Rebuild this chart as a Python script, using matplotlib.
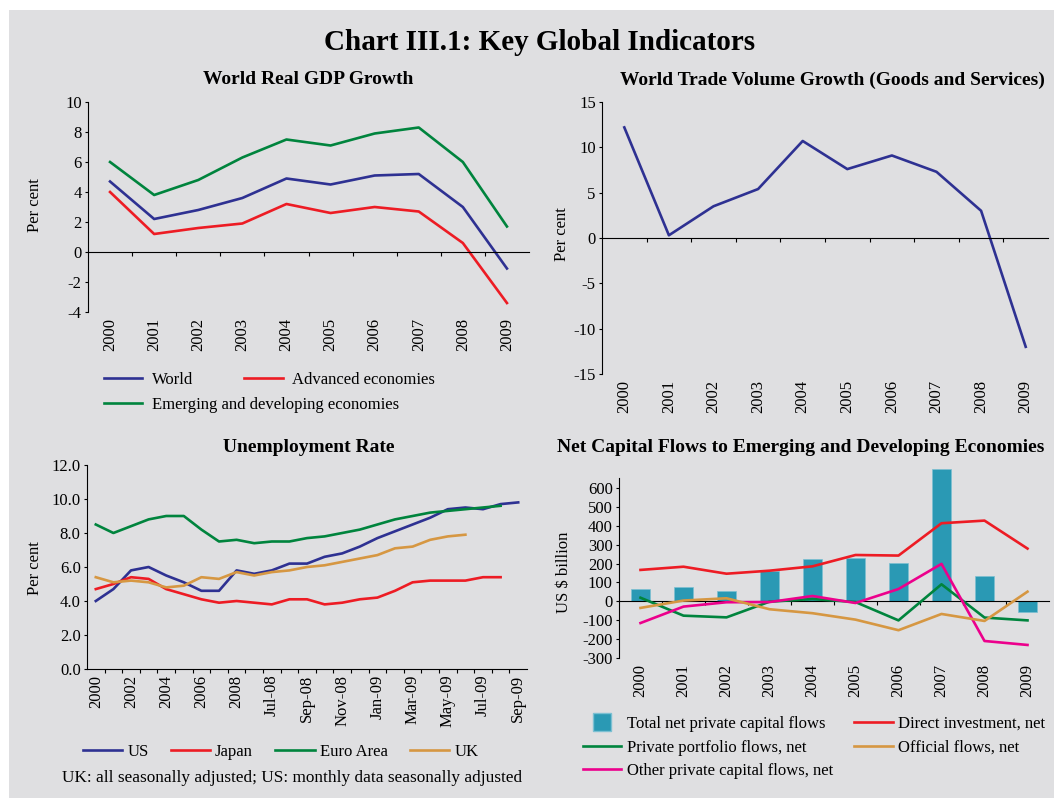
import matplotlib
matplotlib.use("Agg")
import matplotlib.pyplot as plt
from matplotlib.patches import Rectangle
from matplotlib.lines import Line2D

plt.rcParams['font.family'] = ['Liberation Serif', 'DejaVu Serif']
plt.rcParams['axes.unicode_minus'] = False

# ---------------- data ----------------
years = ['2000', '2001', '2002', '2003', '2004', '2005', '2006', '2007', '2008', '2009']

gdp_world = [4.7, 2.2, 2.8, 3.6, 4.9, 4.5, 5.1, 5.2, 3.0, -1.1]
gdp_advanced = [4.0, 1.2, 1.6, 1.9, 3.2, 2.6, 3.0, 2.7, 0.6, -3.4]
gdp_emerging = [6.0, 3.8, 4.8, 6.3, 7.5, 7.1, 7.9, 8.3, 6.0, 1.7]

trade_volume = [12.2, 0.3, 3.5, 5.4, 10.7, 7.6, 9.1, 7.3, 3.0, -12.0]

unemp_periods = ['2000', '2001', '2002', '2003', '2004', '2005', '2006', '2007', '2008',
                 'Jun-08', 'Jul-08', 'Aug-08', 'Sep-08', 'Oct-08', 'Nov-08', 'Dec-08',
                 'Jan-09', 'Feb-09', 'Mar-09', 'Apr-09', 'May-09', 'Jun-09', 'Jul-09',
                 'Aug-09', 'Sep-09']
unemp_us = [4.0, 4.7, 5.8, 6.0, 5.5, 5.1, 4.6, 4.6, 5.8, 5.6, 5.8, 6.2, 6.2, 6.6, 6.8,
            7.2, 7.7, 8.1, 8.5, 8.9, 9.4, 9.5, 9.4, 9.7, 9.8]
unemp_japan = [4.7, 5.0, 5.4, 5.3, 4.7, 4.4, 4.1, 3.9, 4.0, 3.9, 3.8, 4.1, 4.1, 3.8, 3.9,
               4.1, 4.2, 4.6, 5.1, 5.2, 5.2, 5.2, 5.4, 5.4]
unemp_euro = [8.5, 8.0, 8.4, 8.8, 9.0, 9.0, 8.2, 7.5, 7.6, 7.4, 7.5, 7.5, 7.7, 7.8, 8.0,
              8.2, 8.5, 8.8, 9.0, 9.2, 9.3, 9.4, 9.5, 9.6]
unemp_uk = [5.4, 5.1, 5.2, 5.1, 4.8, 4.9, 5.4, 5.3, 5.7, 5.5, 5.7, 5.8, 6.0, 6.1, 6.3,
            6.5, 6.7, 7.1, 7.2, 7.6, 7.8, 7.9]

flow_total_private = [67, 78, 56, 160, 226, 229, 205, 698, 132, -55]
flow_direct = [166, 183, 146, 162, 185, 245, 242, 413, 427, 279]
flow_portfolio = [19, -76, -85, -2, 12, -4, -101, 90, -86, -101]
flow_other = [-115, -28, -5, -4, 28, -9, 65, 198, -210, -231]
flow_official = [-35, 4, 16, -42, -63, -97, -153, -67, -104, 51]

# ---------------- style ----------------
BG = '#dfdfe1'
BLUE = '#2e3192'
RED = '#ed1c24'
GREEN = '#00843d'
ORANGE = '#d69742'
PINK = '#ec008c'
TEAL = '#2a99b4'
LW = 1.9
FS = 12

W, H = 1054, 798
fig = plt.figure(figsize=(W / 100, H / 100), dpi=100, facecolor='white')
fig.patches.append(Rectangle((9 / W, 0), 1 - 9 / W, 1 - 10 / H, transform=fig.transFigure,
                             facecolor=BG, edgecolor='none', zorder=-10))


def fx(px):
    return px / W


def fy(py):
    return 1 - py / H


def make_ax(left, top, right, bottom):
    ax = fig.add_axes([fx(left), fy(bottom), (right - left) / W, (bottom - top) / H])
    ax.patch.set_visible(False)
    for s in ('top', 'right'):
        ax.spines[s].set_visible(False)
    ax.spines['left'].set_linewidth(0.8)
    ax.spines['bottom'].set_linewidth(0.8)
    ax.tick_params(axis='y', length=2.5, width=0.8, pad=2, labelsize=FS)
    return ax


def zero_axis(ax, n, labels):
    ax.spines['bottom'].set_position(('data', 0))
    ax.set_xticks([i + 0.5 for i in range(n - 1)])
    ax.tick_params(axis='x', length=3, width=0.8, labelbottom=False)
    sec = ax.secondary_xaxis(0.0)
    sec.set_xticks(range(n), labels=labels)
    sec.tick_params(axis='x', length=0, pad=4, labelsize=FS, labelrotation=90)
    sec.spines['bottom'].set_visible(False)


x10 = list(range(len(years)))

# ---------- World Real GDP Growth ----------
ax1 = make_ax(88, 102, 529, 312)
l_w, = ax1.plot(x10, gdp_world, color=BLUE, lw=LW)
l_a, = ax1.plot(x10, gdp_advanced, color=RED, lw=LW)
l_e, = ax1.plot(x10, gdp_emerging, color=GREEN, lw=LW)
ax1.set_xlim(-0.5, 9.5)
ax1.set_ylim(-4, 10)
ax1.set_yticks(range(-4, 11, 2))
zero_axis(ax1, 10, years)
fig.text(fx(308), fy(80), 'World Real GDP Growth', ha='center', va='center',
         fontsize=14, fontweight='bold')
fig.text(fx(35), fy(205), 'Per cent', rotation=90, ha='center', va='center', fontsize=FS)
leg1 = ax1.legend([l_w, l_a], ['World', 'Advanced economies'], loc='center left',
                  bbox_to_anchor=(fx(104), fy(380)), bbox_transform=fig.transFigure,
                  ncol=2, frameon=False, fontsize=FS, handlelength=2.3,
                  handletextpad=0.55, columnspacing=3.1, borderpad=0, borderaxespad=0)
ax1.add_artist(leg1)
ax1.legend([l_e], ['Emerging and developing economies'], loc='center left',
           bbox_to_anchor=(fx(104), fy(405)), bbox_transform=fig.transFigure,
           frameon=False, fontsize=FS, handlelength=2.3, handletextpad=0.55,
           borderpad=0, borderaxespad=0)

# ---------- World Trade Volume Growth ----------
ax2 = make_ax(602, 102, 1048, 374)
ax2.plot(x10, trade_volume, color=BLUE, lw=LW)
ax2.set_xlim(-0.5, 9.5)
ax2.set_ylim(-15, 15)
ax2.set_yticks(range(-15, 16, 5))
zero_axis(ax2, 10, years)
fig.text(fx(832), fy(80), 'World Trade Volume Growth (Goods and Services)', ha='center',
         va='center', fontsize=14, fontweight='bold')
fig.text(fx(562), fy(234), 'Per cent', rotation=90, ha='center', va='center', fontsize=FS)

# ---------- Unemployment Rate ----------
ax3 = make_ax(87, 465, 527, 669)
xu = list(range(len(unemp_periods)))
h_us, = ax3.plot(xu, unemp_us, color=BLUE, lw=LW)
h_jp, = ax3.plot(xu[:len(unemp_japan)], unemp_japan, color=RED, lw=LW)
h_eu, = ax3.plot(xu[:len(unemp_euro)], unemp_euro, color=GREEN, lw=LW)
h_uk, = ax3.plot(xu[:len(unemp_uk)], unemp_uk, color=ORANGE, lw=LW)
ax3.set_xlim(-0.5, len(unemp_periods) - 0.5)
ax3.set_ylim(0, 12)
ax3.set_yticks(range(0, 13, 2), labels=['%.1f' % v for v in range(0, 13, 2)])
ax3.set_xticks(xu[::2], labels=unemp_periods[::2])
ax3.set_xticks([i + 0.5 for i in range(len(unemp_periods) - 1)], minor=True)
ax3.tick_params(axis='x', which='major', length=0, pad=4, labelsize=FS, labelrotation=90)
ax3.tick_params(axis='x', which='minor', length=3, width=0.8)
fig.text(fx(309), fy(447), 'Unemployment Rate', ha='center', va='center',
         fontsize=14, fontweight='bold')
fig.text(fx(35), fy(568), 'Per cent', rotation=90, ha='center', va='center', fontsize=FS)
ax3.legend([h_us, h_jp, h_eu, h_uk], ['US', 'Japan', 'Euro Area', 'UK'], loc='center left',
           bbox_to_anchor=(fx(83), fy(752)), bbox_transform=fig.transFigure, ncol=4,
           frameon=False, fontsize=FS, handlelength=2.35, handletextpad=0.3,
           columnspacing=1.35, borderpad=0, borderaxespad=0)
fig.text(fx(62), fy(778), 'UK: all seasonally adjusted; US: monthly data seasonally adjusted',
         ha='left', va='center', fontsize=12.4)

# ---------- Net Capital Flows ----------
ax4 = make_ax(619, 469, 1049, 658)
ax4.bar(x10, flow_total_private, width=0.42, color=TEAL, edgecolor='#7cc0d2',
        linewidth=0.5, zorder=2)
h_di, = ax4.plot(x10, flow_direct, color=RED, lw=LW, zorder=3)
h_pf, = ax4.plot(x10, flow_portfolio, color=GREEN, lw=LW, zorder=3)
h_ot, = ax4.plot(x10, flow_other, color=PINK, lw=LW, zorder=3)
h_of, = ax4.plot(x10, flow_official, color=ORANGE, lw=LW, zorder=3)
ax4.set_xlim(-0.5, 9.5)
ax4.set_ylim(-300, 700)
ax4.set_yticks(range(-300, 601, 100))
ax4.spines['left'].set_bounds(-300, 650)
zero_axis(ax4, 10, years)
fig.text(fx(801), fy(447), 'Net Capital Flows to Emerging and Developing Economies',
         ha='center', va='center', fontsize=14, fontweight='bold')
fig.text(fx(564), fy(572), 'US $ billion', rotation=90, ha='center', va='center', fontsize=FS)
h_tot = Line2D([], [], marker='s', markersize=13.5, color=TEAL, markeredgecolor='#7cc0d2',
               linestyle='none')
ax4.legend([h_tot, h_pf, h_ot, h_di, h_of],
           ['Total net private capital flows', 'Private portfolio flows, net',
            'Other private capital flows, net', 'Direct investment, net',
            'Official flows, net'],
           loc='upper left', bbox_to_anchor=(fx(583), fy(716)), bbox_transform=fig.transFigure,
           ncol=2, frameon=False, fontsize=FS, handlelength=2.3, handletextpad=0.35,
           columnspacing=1.25, labelspacing=0.45, borderpad=0, borderaxespad=0)

fig.text(fx(540), fy(42), 'Chart III.1: Key Global Indicators', ha='center', va='center',
         fontsize=21, fontweight='bold')

fig.savefig('out.png', dpi=100, facecolor=fig.get_facecolor())
